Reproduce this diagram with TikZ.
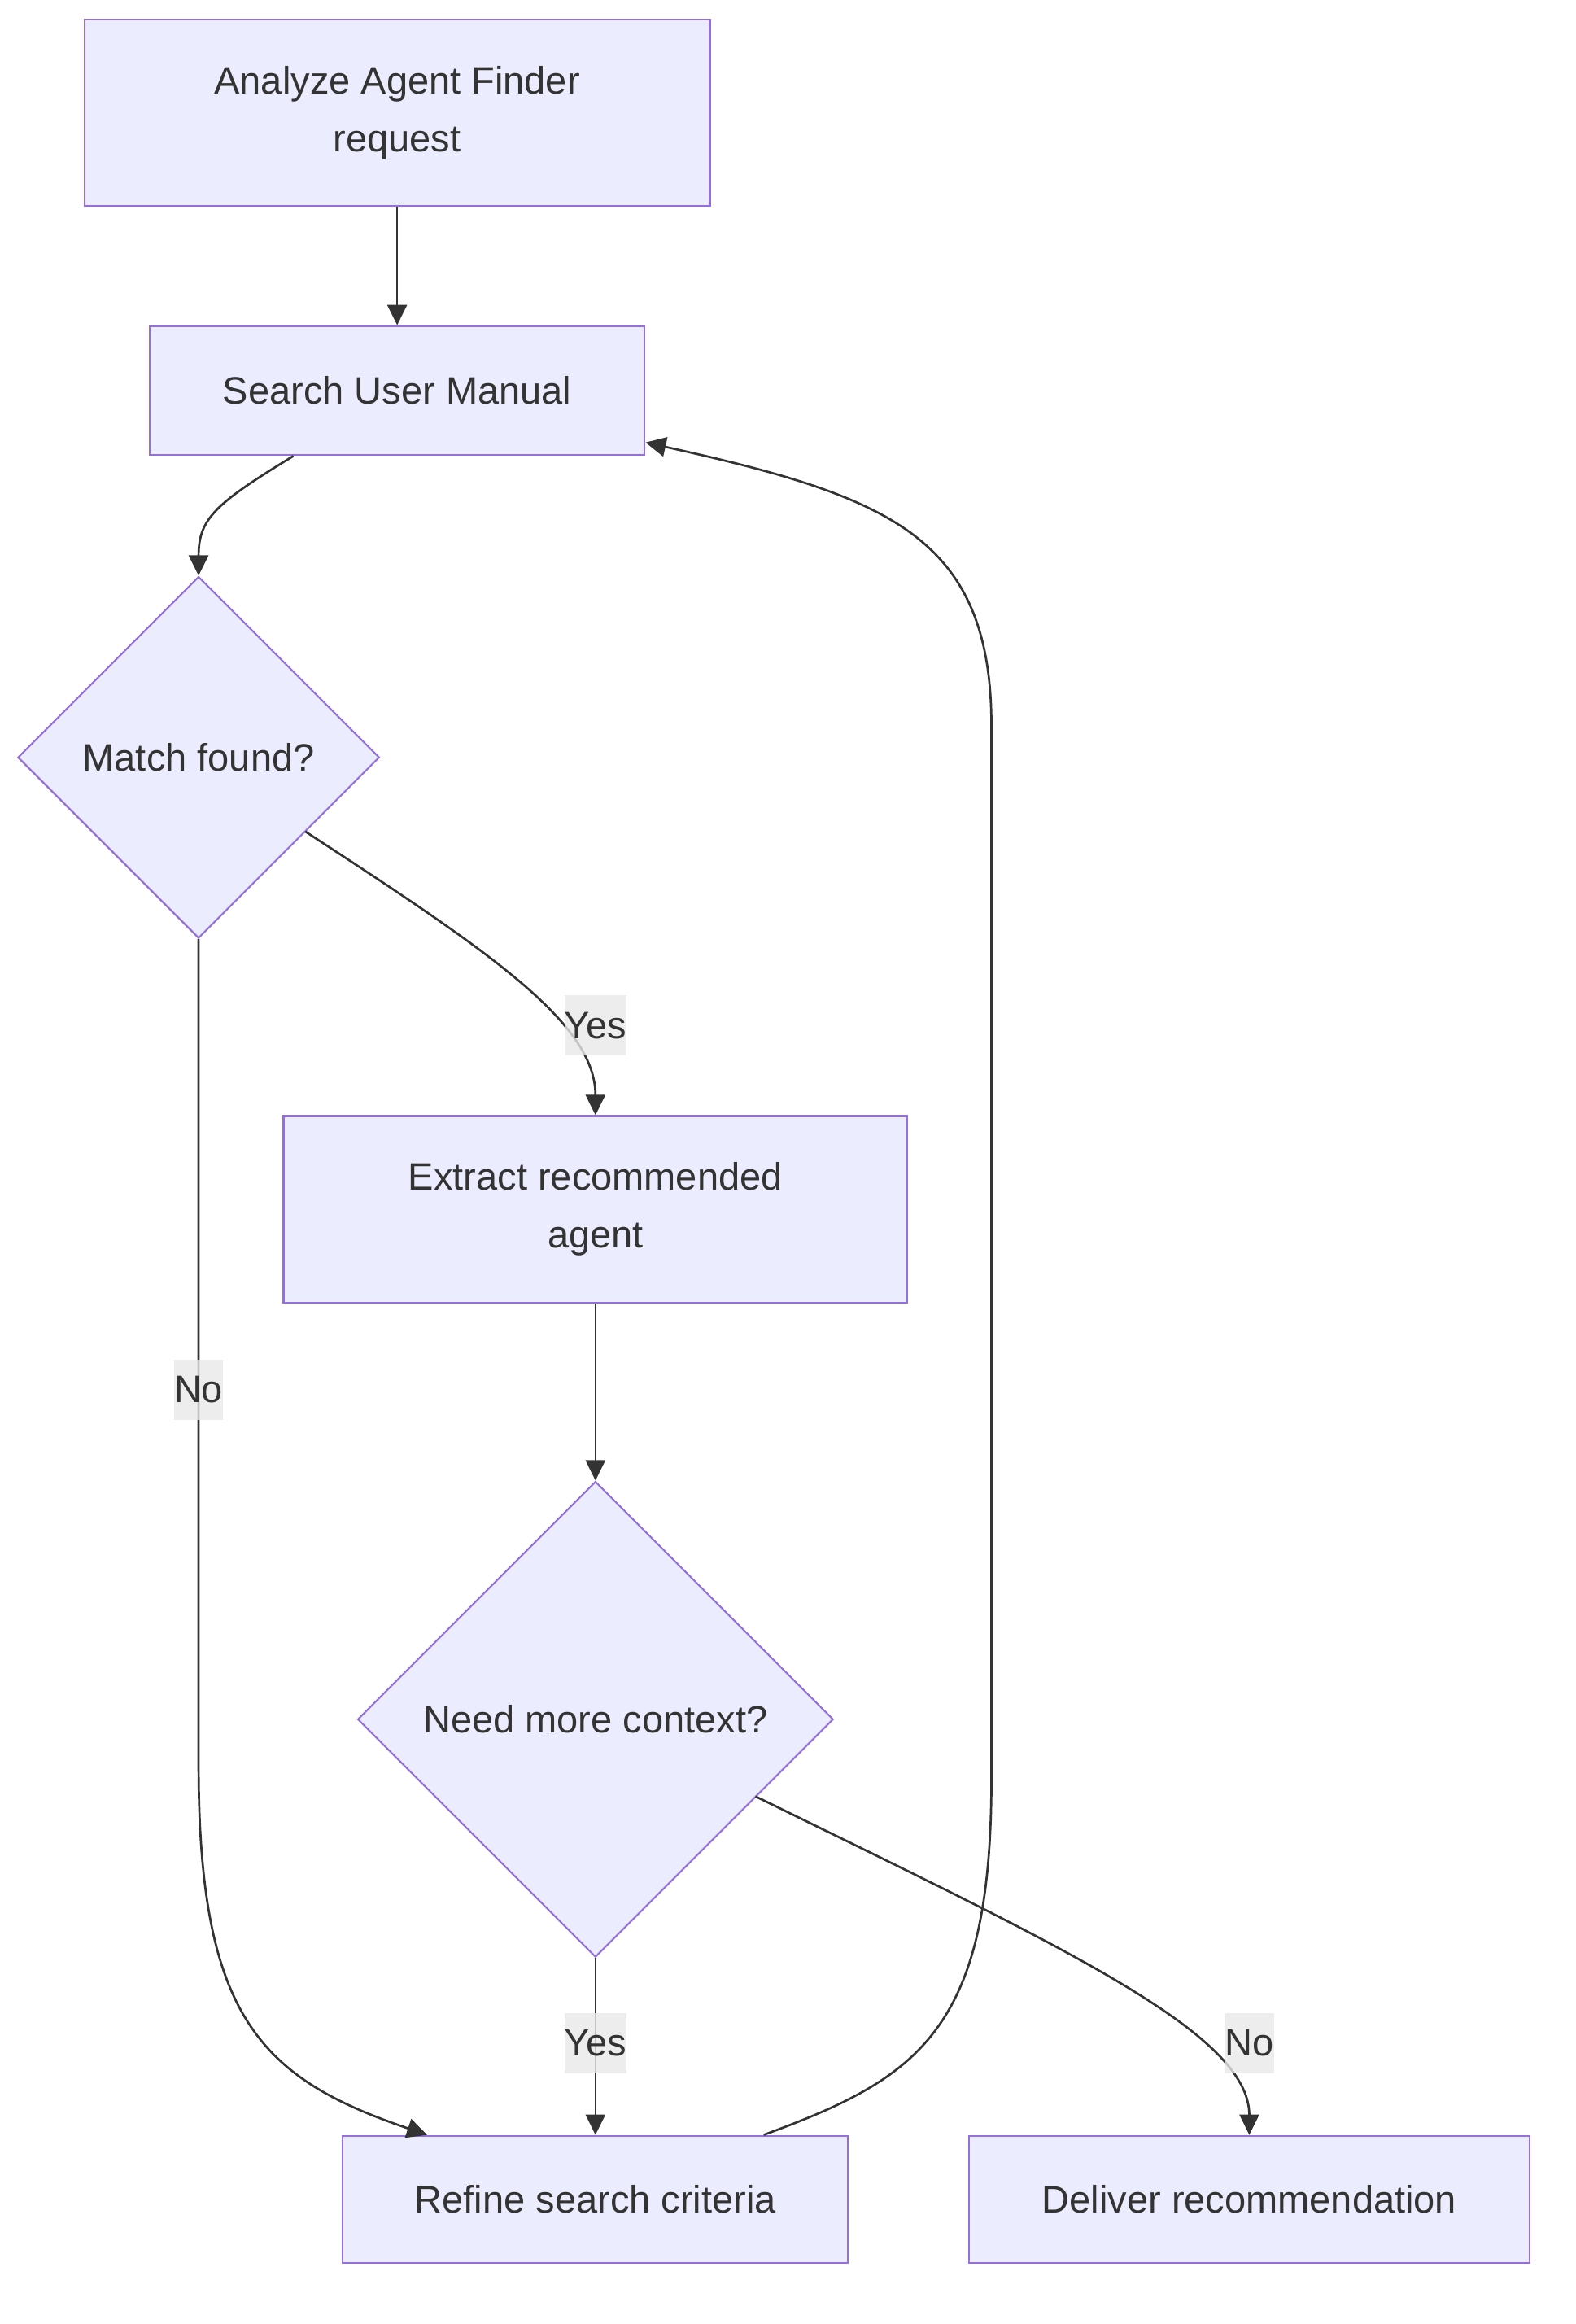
\documentclass[tikz,border=0pt]{standalone}
\usepackage{fontspec}
\setmainfont{Liberation Sans}
\usetikzlibrary{shapes.geometric,arrows.meta,calc}
\definecolor{nodefill}{HTML}{ECECFF}
\definecolor{nodeline}{HTML}{9370DB}
\definecolor{ink}{HTML}{333333}
\definecolor{labelbg}{HTML}{E8E8E8}
\begin{document}
\begin{tikzpicture}[x=1.8213pt,y=-1.8213pt,
  txt/.style={text=ink,font=\fontsize{47}{71}\selectfont},
  box/.style={txt,draw=nodeline,fill=nodefill,line width=2.2pt,align=center,inner sep=0pt},
  dec/.style={box,diamond,aspect=1,minimum width=#1,minimum height=#1},
  flow/.style={draw=ink,line width=2.7pt,-{Triangle[length=25pt,width=24pt]}},
  elabel/.style={txt,fill=labelbg,fill opacity=0.8,text opacity=1,inner xsep=0pt,inner ysep=0pt,minimum height=74pt}]
\useasboundingbox (0,0) rectangle (1063,1568);
\node[box,minimum width=768.6pt,minimum height=229.5pt] (A) at (268,76) {Analyze Agent Finder\\request};
\node[box,minimum width=608.3pt,minimum height=158.5pt] (B) at (268,263.5) {Search User Manual};
\node[dec=444.4pt] (C) at (134,511) {Match found?};
\node[box,minimum width=766.8pt,minimum height=229.5pt] (D) at (401.8,816) {Extract recommended\\agent};
\node[dec=584.6pt] (E) at (401.8,1160) {Need more context?};
\node[box,minimum width=621pt,minimum height=156.6pt] (F) at (401.8,1484) {Refine search criteria};
\node[box,minimum width=688.5pt,minimum height=156.6pt] (G) at (843,1484) {Deliver recommendation};

\coordinate (bs) at ($(B.south)+(-70,0)$);
\coordinate (cr) at ($(C.center)+(72,50)$);
\coordinate (er) at ($(E.center)+(108,52)$);
\coordinate (fn) at ($(F.north)+(113.5,0)$);
\coordinate (fw) at ($(F.north)+(-113.5,0)$);
\coordinate (be) at ($(B.east)+(0,35)$);

\draw[flow] (A) -- (B);
\draw[flow] (bs) .. controls (145,340) and (134,350) .. (C.north);
\draw[flow] (cr) .. controls (330,642) and (401.8,690) .. (D.north);
\draw[flow] (C.south) -- (134,1190) .. controls (134,1360) and (175,1402) .. (fw);
\draw[flow] (D) -- (E);
\draw[flow] (E.south) -- (F.north);
\draw[flow] (er) .. controls (720,1315) and (843,1372) .. (G.north);
\draw[flow] (fn) .. controls (620,1402) and (669,1370) .. (669,1200) -- (669,490) .. controls (669,362) and (600,335) .. (be);

\node[elabel] (l1) at (401.8,692) {Yes};
\node[elabel] (l2) at (134,937.5) {No};
\node[elabel] (l3) at (401.8,1378.5) {Yes};
\node[elabel] (l4) at (843,1378.5) {No};
\end{tikzpicture}
\end{document}
